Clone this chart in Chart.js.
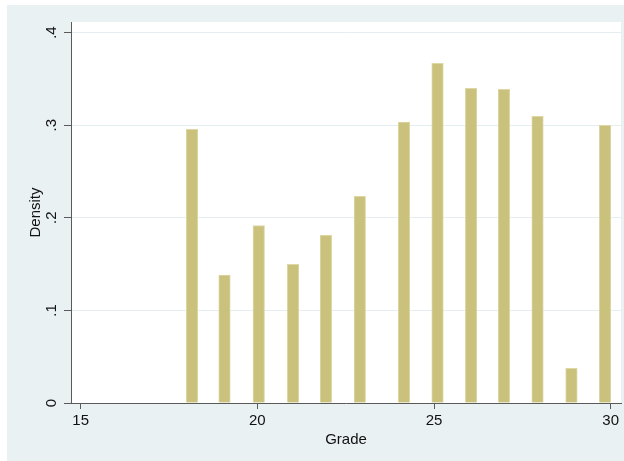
<!DOCTYPE html>
<html>
<head>
<meta charset="utf-8">
<script src="https://cdn.jsdelivr.net/npm/chart.js@4/dist/chart.umd.min.js"></script>
<style>
  html, body { margin: 0; padding: 0; background: #ffffff; }
  canvas { display: block; }
</style>
</head>
<body>
<canvas id="hist" width="624" height="461"></canvas>
<script>
// Grade histogram (density scale)
const grades   = [18, 19, 20, 21, 22, 23, 24, 25, 26, 27, 28, 29, 30];
const binMid   = [18.15, 19.07, 20.04, 21.01, 21.94, 22.90, 24.15, 25.10, 26.05, 26.98, 27.93, 28.89, 29.84];
const density  = [0.2955, 0.138, 0.1917, 0.1498, 0.181, 0.2232, 0.3032, 0.3668, 0.3398, 0.3387, 0.3096, 0.0375, 0.2999];
const xTicks   = [15, 20, 25, 30];
const yTicks   = [0, 0.1, 0.2, 0.3, 0.4];
const yTickLabels = ['0', '.1', '.2', '.3', '.4'];

const FONT = 'Liberation Sans, Arial, Helvetica, sans-serif';
const AXIS = '#5a5a5a';

// Light graph region behind everything, white plot region inside the axes
const backgrounds = {
  id: 'backgrounds',
  beforeDraw(chart) {
    const { ctx, chartArea: a } = chart;
    ctx.save();
    ctx.fillStyle = '#eaf1f3';
    ctx.fillRect(7, 5, chart.width - 7, chart.height - 5);
    ctx.fillStyle = '#ffffff';
    ctx.fillRect(a.left, a.top, a.right - a.left, a.bottom - a.top);
    ctx.restore();
  }
};

new Chart(document.getElementById('hist'), {
  type: 'bar',
  data: {
    datasets: [{
      label: 'Grade',
      data: grades.map((g, i) => ({ x: binMid[i], y: density[i] })),
      backgroundColor: '#cac27c',
      borderColor: '#ddd7a4',
      borderWidth: 1,
      barThickness: 11.5
    }]
  },
  options: {
    responsive: false,
    animation: false,
    layout: { padding: { left: 0, top: 22, right: 3, bottom: 0 } },
    plugins: { legend: { display: false }, tooltip: { enabled: false } },
    scales: {
      x: {
        type: 'linear',
        offset: false,
        min: 14.7255,
        max: 30.2925,
        afterBuildTicks: s => { s.ticks = xTicks.map(v => ({ value: v })); },
        afterFit: s => { s.height = 58; },
        grid: { offset: false, drawOnChartArea: false, color: 'rgba(0,0,0,0)', tickColor: AXIS, tickLength: 6, lineWidth: 1 },
        border: { color: AXIS, width: 1 },
        ticks: { color: '#111', font: { family: FONT, size: 15 }, padding: 3, maxRotation: 0, autoSkip: false },
        title: { display: true, text: 'Grade', color: '#111', font: { family: FONT, size: 15 }, padding: { top: 4, bottom: 12 } }
      },
      y: {
        min: 0,
        max: 0.4114,
        afterBuildTicks: s => { s.ticks = yTicks.map(v => ({ value: v })); },
        afterFit: s => { s.width = 71; },
        grid: {
          color: c => (c.tick && c.tick.value === 0 ? 'rgba(0,0,0,0)' : '#e4edf0'),
          tickColor: AXIS,
          tickLength: 7,
          lineWidth: 1
        },
        border: { color: AXIS, width: 1 },
        ticks: {
          color: '#111',
          font: { family: FONT, size: 15 },
          minRotation: 90,
          maxRotation: 90,
          crossAlign: 'center',
          padding: 6,
          autoSkip: false,
          callback: (v, i) => yTickLabels[i]
        },
        title: { display: true, text: 'Density', color: '#111', font: { family: FONT, size: 15 }, padding: { top: 27, bottom: 0 } }
      }
    }
  },
  plugins: [backgrounds]
});
</script>
</body>
</html>
